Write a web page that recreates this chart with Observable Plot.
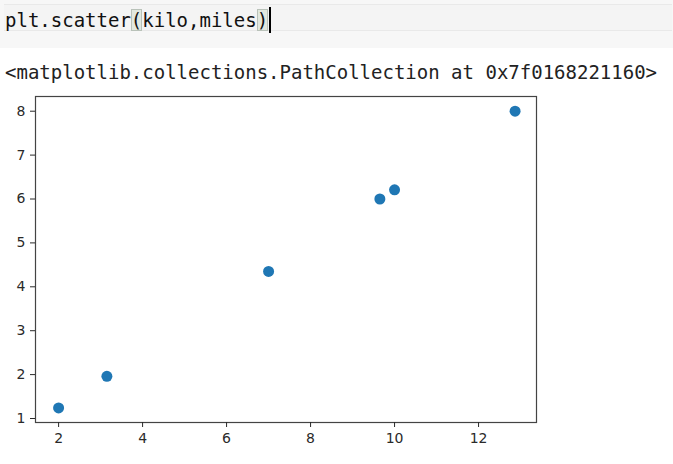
<!DOCTYPE html>
<html>
<head>
<meta charset="utf-8">
<script src="https://cdn.jsdelivr.net/npm/d3@7"></script>
<script src="https://cdn.jsdelivr.net/npm/@observablehq/plot@0.6"></script>
<style>
  html, body { margin: 0; padding: 0; background: #ffffff; }
  #page { position: relative; width: 673px; height: 464px; overflow: hidden; background: #ffffff; }
  #cellbg { position: absolute; left: 0; top: 0; width: 673px; height: 48px; background: #f7f7f7; }
  #codebox { position: absolute; left: 4px; top: 4px; width: 668px; height: 27px; background: #f4f4f4;
             border-top: 1px solid #e9e9e9; border-bottom: 1px solid #e9e9e9; box-sizing: border-box; }
  #code { position: absolute; left: 5px; top: 7px; font-family: "DejaVu Sans Mono", monospace; font-size: 19px;
          line-height: 22px; color: #111; white-space: pre; }
  .mb { background: #e2e8df; outline: 1px solid #b9c2b9; outline-offset: -1px; }
  .cursor { display: inline-block; width: 2px; height: 26px; background: #000; vertical-align: -6px; margin-left: 1px; }
  #out { position: absolute; left: 5px; top: 61px; font-family: "DejaVu Sans Mono", monospace; font-size: 19px;
         line-height: 22px; color: #222; white-space: pre; }
  #chart { position: absolute; left: 0; top: 85px; }
  #chart svg text { font-size: 14px; }
</style>
</head>
<body>
<div id="page">
  <div id="cellbg"></div>
  <div id="codebox"></div>
  <div id="code">plt.scatter<span class="mb">(</span>kilo,miles<span class="mb">)</span><span class="cursor"></span></div>
  <div id="out">&lt;matplotlib.collections.PathCollection at 0x7f0168221160&gt;</div>
  <div id="chart"></div>
</div>
<script>
// Data (kilometres vs miles)
const kilo  = [2, 3.15, 7, 9.65, 10, 12.87];
const miles = [1.24, 1.96, 4.35, 6.0, 6.21, 8.0];
const xTicks = [2, 4, 6, 8, 10, 12];
const yTicks = [1, 2, 3, 4, 5, 6, 7, 8];

const data = kilo.map((k, i) => ({kilo: k, miles: miles[i]}));

const chart = Plot.plot({
  width: 673,
  height: 379,
  marginTop: 11,
  marginBottom: 42,
  marginLeft: 35,
  marginRight: 137,
  style: {fontFamily: "DejaVu Sans, sans-serif", fontSize: "14px", background: "transparent", color: "#2a2a2a"},
  x: {domain: [1.45, 13.38]},
  y: {domain: [0.909, 8.335]},
  marks: [
    Plot.frame({stroke: "#444", strokeWidth: 1.2}),
    Plot.axisX({ticks: xTicks, tickSize: 5, tickPadding: 6, label: null, fontSize: 14, color: "#2a2a2a"}),
    Plot.axisY({ticks: yTicks, tickSize: 5, tickPadding: 5, label: null, fontSize: 14, color: "#2a2a2a"}),
    Plot.dot(data, {x: "kilo", y: "miles", r: 5.5, fill: "#1f77b4", stroke: null})
  ]
});
document.getElementById("chart").appendChild(chart);
</script>
</body>
</html>
